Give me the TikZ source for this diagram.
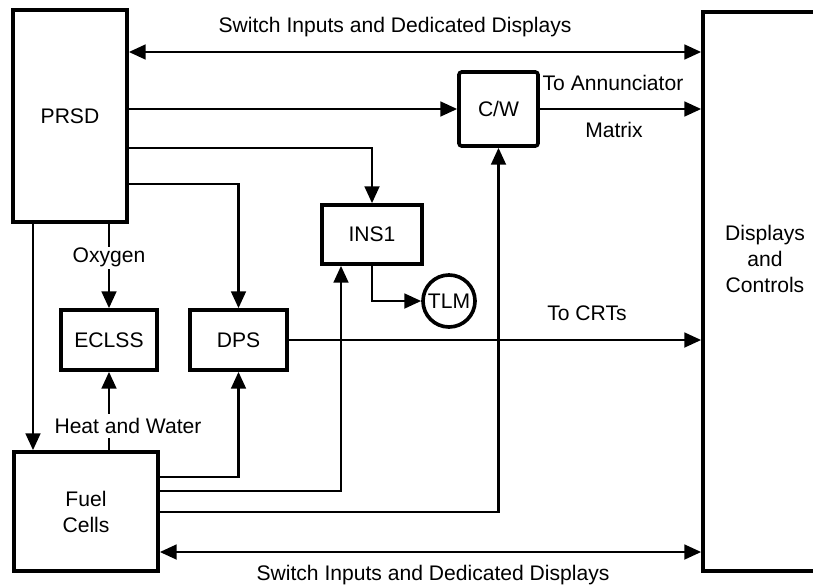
\documentclass[tikz,border=0pt]{standalone}
\usepackage{fontspec}
\setmainfont{Liberation Sans}
\usetikzlibrary{arrows.meta}
\begin{document}
\begin{tikzpicture}[
    x=0.025cm,
    y=-0.025cm,
    >={Triangle[length=12pt,width=10.5pt]},
    box/.style={draw,line width=2.6pt,inner sep=0pt,align=center,
      font=\fontsize{15}{18.5}\selectfont},
    flow/.style={->,line width=1.8pt},
    both/.style={<->,line width=1.8pt},
    lbl/.style={inner sep=1pt,font=\fontsize{15}{18.5}\selectfont}
  ]
    \useasboundingbox (0,0) rectangle (813,586);

    \node[box,minimum width=2.85cm,minimum height=5.3cm] (prsd)
      at (70,116) {PRSD};
    \node[box,minimum width=3.1cm,minimum height=13.975cm] (dc)
      at (765,291.5) {};
    \node[lbl,align=center] (dctext) at (765,259)
      {Displays\\and\\Controls};
    \node[box,rounded corners=2pt,minimum width=1.975cm,
      minimum height=1.85cm] (cw) at (498.5,109) {C/W};
    \node[box,minimum width=2.5cm,minimum height=1.475cm] (ins)
      at (372,234.5) {INS1};
    \node[box,minimum width=2.4cm,minimum height=1.5cm] (eclss)
      at (109,340) {ECLSS};
    \node[box,minimum width=2.425cm,minimum height=1.5cm] (dps)
      at (238.5,340) {DPS};
    \node[box,minimum width=3.6cm,minimum height=2.975cm] (fuel)
      at (86,511.5) {Fuel\\Cells};
    \node[box,circle,minimum size=1.3cm] (tlm) at (449,301) {TLM};

    \coordinate (swtop) at (0,52);
    \coordinate (swbot) at (0,552);
    \coordinate (prins) at (369,148);
    \coordinate (prdps) at (236,184);
    \coordinate (prfc) at (33,0);
    \coordinate (fcdps) at (236,477);
    \coordinate (fcins) at (341,491);
    \coordinate (fccw) at (498,512);

    \draw[both] (swtop -| prsd.east) -- (swtop -| dc.west);
    \draw[both] (swbot -| fuel.east) -- (swbot -| dc.west);
    \node[lbl] (swtoplbl) at (395,27)
      {Switch Inputs and Dedicated Displays};
    \node[lbl] (swbotlbl) at (433,575)
      {Switch Inputs and Dedicated Displays};

    \draw[flow] (prsd.east |- cw.west) -- (cw.west);
    \draw[flow] (cw.east) -- (dc.west |- cw.east);
    \node[lbl] (annlbl) at (613,83) {To Annunciator};
    \node[lbl] (matlbl) at (614,130) {Matrix};

    \draw[flow] (prins -| prsd.east) -| (ins.north);
    \draw[flow] (prdps -| prsd.east) -| (dps.north);
    \draw[flow] (prfc |- prsd.south) -- (prfc |- fuel.north);
    \draw[flow] (prsd.south -| eclss.north) --
      node[lbl,fill=white,pos=0.4] (oxy) {Oxygen} (eclss.north);
    \draw[flow] (fuel.north -| eclss.south) -- (eclss.south);
    \node[lbl,fill=white,inner sep=3pt] (heat) at (128,426)
      {Heat and Water};

    \draw[flow] (fcdps -| fuel.east) -| (dps.south);
    \draw[flow] (fcins -| fuel.east) -| (ins.south -| fcins);
    \draw[flow] (fccw -| fuel.east) -| (cw.south);
    \draw[flow] (ins.south) |- (tlm.west);

    \draw[flow] (dps.east) -- (dc.west |- dps.east);
    \node[lbl] (crtlbl) at (587,313) {To CRTs};
  \end{tikzpicture}
\end{document}
